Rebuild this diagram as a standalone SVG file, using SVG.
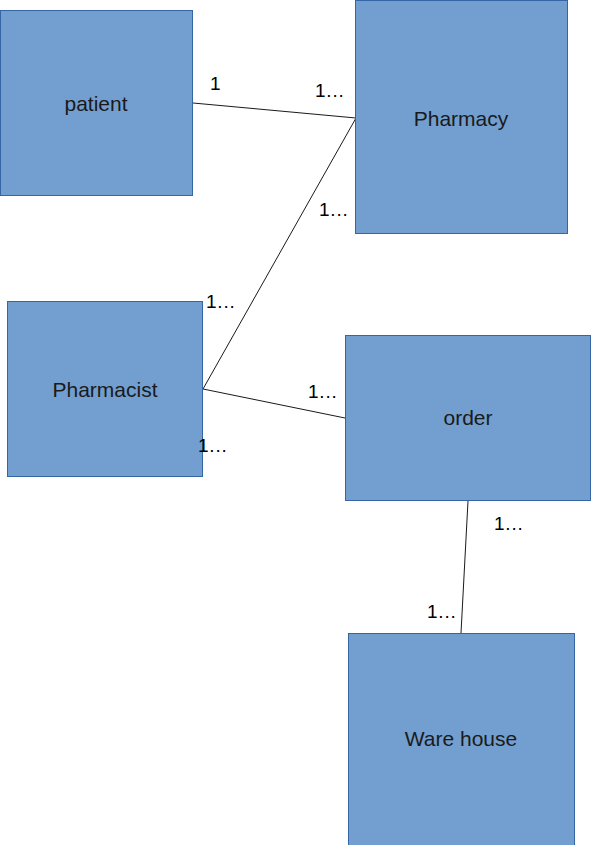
<svg xmlns="http://www.w3.org/2000/svg" width="601" height="845" viewBox="0 0 601 845">
<style>
.box{fill:#729fcf;stroke:#3465a4;stroke-width:1}
.lbl{font-family:"Liberation Sans",Arial,sans-serif;font-size:21px;fill:#1a1a1a;text-anchor:middle}
.card{font-family:"Liberation Sans",Arial,sans-serif;font-size:19px;fill:#000;letter-spacing:0.8px}
.conn line{stroke:#1a1a1a;stroke-width:1}
</style>
<rect width="601" height="845" fill="#fff"/>
<g class="conn">
<line x1="193" y1="103" x2="356" y2="118"/>
<line x1="203" y1="389" x2="356" y2="118"/>
<line x1="203" y1="389" x2="345" y2="418"/>
<line x1="468" y1="501" x2="461" y2="633"/>
</g>
<g id="patient"><rect class="box" x="0.5" y="10.5" width="192" height="185"/><text class="lbl" x="96" y="111">patient</text></g>
<g id="pharmacy"><rect class="box" x="355.5" y="0.5" width="212" height="233"/><text class="lbl" x="461" y="126">Pharmacy</text></g>
<g id="pharmacist"><rect class="box" x="7.5" y="301.5" width="195" height="175"/><text class="lbl" x="105" y="397">Pharmacist</text></g>
<g id="order"><rect class="box" x="345.5" y="335.5" width="245" height="165"/><text class="lbl" x="468" y="425">order</text></g>
<g id="warehouse"><rect class="box" x="348.5" y="633.5" width="226" height="212"/><text class="lbl" x="461" y="746">Ware house</text></g>
<g id="cardinalities">
<text class="card" x="210" y="90">1</text>
<text class="card" x="315" y="97">1...</text>
<text class="card" x="319" y="216">1...</text>
<text class="card" x="206" y="308">1...</text>
<text class="card" x="308" y="398">1...</text>
<text class="card" x="198" y="452">1...</text>
<text class="card" x="494" y="530">1...</text>
<text class="card" x="427" y="618">1...</text>
</g>
</svg>
